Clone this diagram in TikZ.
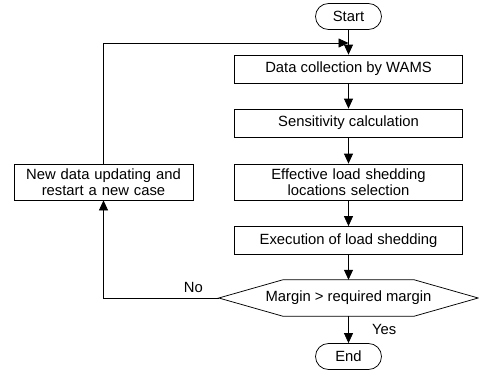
\documentclass[tikz,border=0pt]{standalone}
\usepackage{fontspec}
\setmainfont{Liberation Sans}
\usepackage{tikz}
\usetikzlibrary{shapes.misc, arrows.meta, calc}

\begin{document}
\begin{tikzpicture}[x=1pt, y=-1pt,
    every node/.style={font=\fontsize{14.8}{16.5}\selectfont},
    terminal/.style={draw, rounded rectangle, minimum width=68pt, minimum height=26pt, inner sep=1pt, line width=0.75pt},
    process/.style={draw, rectangle, minimum width=228pt, minimum height=28pt, inner sep=1pt, line width=0.75pt},
    twoline/.style={process, text width=220pt, align=center, minimum height=36pt},
    flow/.style={line width=0.75pt, -{Triangle[length=10pt, width=9pt]}}]
  \useasboundingbox (0,0) rectangle (479,372);

  % Start and end
  \node[terminal] (start) at (348.5, 16.5) {Start};
  \node[terminal] (finish) at (348.5, 356.5) {End};

  % Main chain
  \node[process] (wams) at (348.5, 69) {Data collection by WAMS};
  \node[process] (sens) at (348.5, 123) {Sensitivity calculation};
  \node[twoline] (locsel) at (348.5, 182) {Effective load shedding\\locations selection};
  \node[process] (exec) at (348.5, 240.5) {Execution of load shedding};

  % Check of margin (hexagon)
  \node[minimum width=259pt, minimum height=36pt, inner sep=0pt] (check) at (348.5, 298) {Margin > required margin};
  \draw[line width=0.75pt] (check.west) -- ([xshift=64pt]check.north west) -- ([xshift=-64pt]check.north east)
    -- (check.east) -- ([xshift=-64pt]check.south east) -- ([xshift=64pt]check.south west) -- cycle;

  % New case
  \node[twoline, minimum width=179pt, text width=172pt] (newcase) at (103.5, 182) {New data updating and\\restart a new case};
  \coordinate (rejoin) at (348.5, 43);

  % Arrows
  \draw[flow] (start) -- (wams);
  \draw[flow] (wams) -- (sens);
  \draw[flow] (sens) -- (locsel);
  \draw[flow] (locsel) -- (exec);
  \draw[flow] (exec) -- (check.north);
  \draw[flow] (check.south) -- node[midway, right=20pt] {Yes} (finish);
  \draw[flow] (check.west) -- node[pos=0.22, above=2pt] {No} (check.west -| newcase.south) -- (newcase.south);
  \draw[flow] (newcase.north) |- (rejoin);
\end{tikzpicture}
\end{document}
